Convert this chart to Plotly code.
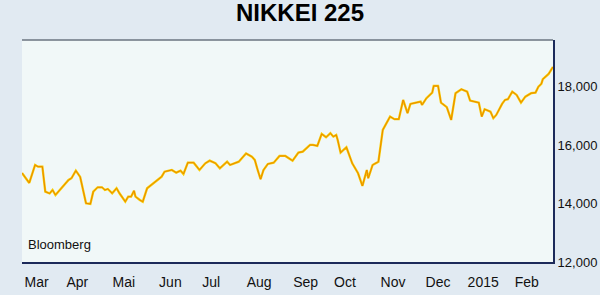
import plotly.graph_objects as go

dates = [
    "2014-02-28", "2014-03-05", "2014-03-09", "2014-03-11", "2014-03-14", "2014-03-16",
    "2014-03-19", "2014-03-21", "2014-03-23", "2014-03-26", "2014-03-29", "2014-04-01",
    "2014-04-03", "2014-04-06", "2014-04-09", "2014-04-11", "2014-04-13", "2014-04-16",
    "2014-04-18", "2014-04-21", "2014-04-24", "2014-04-26", "2014-04-28", "2014-05-01",
    "2014-05-04", "2014-05-06", "2014-05-10", "2014-05-12", "2014-05-14", "2014-05-16",
    "2014-05-17", "2014-05-20", "2014-05-22", "2014-05-25", "2014-05-29", "2014-06-01",
    "2014-06-04", "2014-06-06", "2014-06-11", "2014-06-14", "2014-06-17", "2014-06-19",
    "2014-06-22", "2014-06-26", "2014-06-30", "2014-07-04", "2014-07-07", "2014-07-11",
    "2014-07-14", "2014-07-19", "2014-07-21", "2014-07-27", "2014-08-01", "2014-08-05",
    "2014-08-07", "2014-08-09", "2014-08-11", "2014-08-13", "2014-08-16", "2014-08-20",
    "2014-08-24", "2014-08-28", "2014-08-31", "2014-09-02", "2014-09-06", "2014-09-09",
    "2014-09-14", "2014-09-16", "2014-09-19", "2014-09-22", "2014-09-25", "2014-09-28",
    "2014-09-30", "2014-10-02", "2014-10-03", "2014-10-05", "2014-10-09", "2014-10-13",
    "2014-10-17", "2014-10-20", "2014-10-23", "2014-10-24", "2014-10-27", "2014-10-31",
    "2014-11-03", "2014-11-08", "2014-11-11", "2014-11-14", "2014-11-17", "2014-11-20",
    "2014-11-22", "2014-11-25", "2014-11-29", "2014-11-30", "2014-12-03", "2014-12-07",
    "2014-12-08", "2014-12-11", "2014-12-13", "2014-12-17", "2014-12-20", "2014-12-23",
    "2014-12-27", "2014-12-31", "2015-01-02", "2015-01-08", "2015-01-10", "2015-01-12",
    "2015-01-16", "2015-01-18", "2015-01-20", "2015-01-24", "2015-01-26", "2015-01-28",
    "2015-01-31", "2015-02-03", "2015-02-06", "2015-02-09", "2015-02-13", "2015-02-16",
    "2015-02-18", "2015-02-20", "2015-02-21", "2015-02-25", "2015-02-28",
]
nikkei = [
    15048, 14706, 15322, 15264, 15264, 14408,
    14346, 14466, 14295, 14466, 14637, 14809,
    14867, 15127, 14911, 14408, 14010, 13987,
    14408, 14558, 14558, 14466, 14500, 14353,
    14524, 14353, 14065, 14237, 14237, 14442,
    14237, 14124, 14065, 14524, 14695, 14809,
    14922, 15093, 15151, 15059, 15127, 15014,
    15401, 15401, 15151, 15380, 15470, 15380,
    15209, 15435, 15322, 15435, 15716, 15606,
    15494, 15151, 14832, 15151, 15357, 15401,
    15631, 15631, 15517, 15470, 15744, 15778,
    16007, 16007, 15973, 16384, 16271, 16408,
    16292, 16350, 16179, 15744, 15928, 15380,
    15038, 14603, 15151, 14867, 15322, 15435,
    16521, 16977, 16888, 16888, 17549, 17093,
    17412, 17456, 17490, 17377, 17607, 17799,
    18028, 18028, 17456, 17299, 16863, 17778,
    17915, 17833, 17525, 17456, 16977, 17230,
    17148, 16922, 17035, 17412, 17549, 17573,
    17833, 17720, 17456, 17661, 17778, 17799,
    18005, 18097, 18258, 18439, 18679,
]

x_tick_dates = ["2014-03-10", "2014-04-07", "2014-05-09", "2014-06-10", "2014-07-08",
                "2014-08-10", "2014-09-11", "2014-10-08", "2014-11-10", "2014-12-11",
                "2015-01-11", "2015-02-10"]
x_tick_labels = ["Mar", "Apr", "Mai", "Jun", "Jul", "Aug", "Sep", "Oct", "Nov", "Dec",
                 "2015", "Feb"]
y_tick_vals = [12000, 14000, 16000, 18000]
y_tick_labels = ["12,000", "14,000", "16,000", "18,000"]

FONT = "Liberation Sans, Arial, sans-serif"

fig = go.Figure()
fig.add_trace(go.Scatter(x=dates, y=nikkei, mode="lines",
                         line=dict(color="#f9cc00", width=2.3), hoverinfo="skip"))
fig.add_trace(go.Scatter(x=dates, y=nikkei, mode="lines",
                         line=dict(color="#e05a00", width=1), opacity=0.6))

fig.update_layout(
    width=600, height=295,
    margin=dict(l=22, r=47, t=40, b=33),
    paper_bgcolor="#e1eaf2",
    plot_bgcolor="#f1f8f8",
    showlegend=False,
    font=dict(family=FONT, size=13, color="#111111"),
    title=dict(text="<b>NIKKEI 225</b>", x=0.5, xanchor="center", y=0.985, yanchor="top",
               font=dict(family=FONT, size=24, color="#000000")),
    xaxis=dict(range=["2014-02-28", "2015-02-28"], tickvals=x_tick_dates,
               ticktext=x_tick_labels, showgrid=False, zeroline=False, automargin=False,
               showline=True, linecolor="#1c2a5a", linewidth=2, ticks="",
               ticklabelstandoff=6,
               tickfont=dict(family=FONT, size=14, color="#111111")),
    yaxis=dict(range=[12000, 19600], side="right", tickvals=y_tick_vals,
               ticktext=y_tick_labels, showgrid=False, zeroline=False, automargin=False,
               showline=True, linecolor="#1c2a5a", linewidth=2, ticks="",
               tickfont=dict(family=FONT, size=13, color="#111111")),
    shapes=[dict(type="line", xref="paper", yref="paper", x0=0, x1=1, y0=1, y1=1,
                 line=dict(color="#6a7480", width=1.5))],
    annotations=[dict(text="Bloomberg", xref="paper", yref="paper", x=0.008, y=0.035,
                      xanchor="left", yanchor="bottom", showarrow=False,
                      font=dict(family=FONT, size=13, color="#111111"))],
)

fig.write_html("out.html")
